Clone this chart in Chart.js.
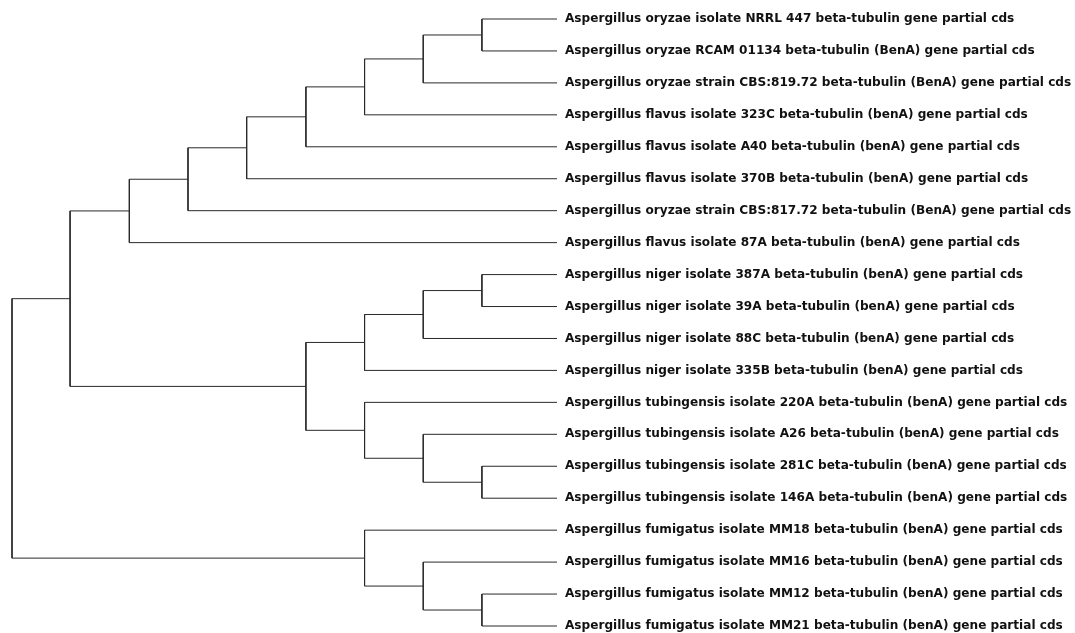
<!DOCTYPE html>
<html>
<head>
<meta charset="utf-8">
<script src="https://cdn.jsdelivr.net/npm/chart.js@4"></script>
<style>
  html, body { margin: 0; padding: 0; background: #ffffff; }
  #wrap { position: relative; width: 1075px; height: 633px; }
</style>
</head>
<body>
<div id="wrap"><canvas id="c"></canvas></div>
<script>
// Leaf labels, top to bottom
const leafLabels = [
  "Aspergillus oryzae isolate NRRL 447 beta-tubulin gene partial cds",
  "Aspergillus oryzae RCAM 01134 beta-tubulin (BenA) gene partial cds",
  "Aspergillus oryzae strain CBS:819.72 beta-tubulin (BenA) gene partial cds",
  "Aspergillus flavus isolate 323C beta-tubulin (benA) gene partial cds",
  "Aspergillus flavus isolate A40 beta-tubulin (benA) gene partial cds",
  "Aspergillus flavus isolate 370B beta-tubulin (benA) gene partial cds",
  "Aspergillus oryzae strain CBS:817.72 beta-tubulin (BenA) gene partial cds",
  "Aspergillus flavus isolate 87A beta-tubulin (benA) gene partial cds",
  "Aspergillus niger isolate 387A beta-tubulin (benA) gene partial cds",
  "Aspergillus niger isolate 39A beta-tubulin (benA) gene partial cds",
  "Aspergillus niger isolate 88C beta-tubulin (benA) gene partial cds",
  "Aspergillus niger isolate 335B beta-tubulin (benA) gene partial cds",
  "Aspergillus tubingensis isolate 220A beta-tubulin (benA) gene partial cds",
  "Aspergillus tubingensis isolate A26 beta-tubulin (benA) gene partial cds",
  "Aspergillus tubingensis isolate 281C beta-tubulin (benA) gene partial cds",
  "Aspergillus tubingensis isolate 146A beta-tubulin (benA) gene partial cds",
  "Aspergillus fumigatus isolate MM18 beta-tubulin (benA) gene partial cds",
  "Aspergillus fumigatus isolate MM16 beta-tubulin (benA) gene partial cds",
  "Aspergillus fumigatus isolate MM12 beta-tubulin (benA) gene partial cds",
  "Aspergillus fumigatus isolate MM21 beta-tubulin (benA) gene partial cds"
];

// Linkage: leaves are ids 0..19, merge k creates node id 20+k
const mergeLeft   = [0, 20, 21, 22, 23, 24, 25, 8, 27, 28, 14, 13, 12, 29, 26, 18, 17, 16, 34];
const mergeRight  = [1, 2, 3, 4, 5, 6, 7, 9, 10, 11, 15, 30, 31, 32, 33, 19, 35, 36, 37];
const mergeHeight = [1.28, 2.28, 3.28, 4.28, 5.29, 6.29, 7.29, 1.28, 2.28, 3.28, 1.28, 2.28, 3.28, 4.28, 8.30, 1.28, 2.28, 3.28, 9.29];

const nLeaves = leafLabels.length;
const nodeY = [], nodeH = [];
for (let i = 0; i < nLeaves; i++) { nodeY.push(i); nodeH.push(0); }
const datasets = [];
for (let k = 0; k < mergeLeft.length; k++) {
  const a = mergeLeft[k], b = mergeRight[k], h = mergeHeight[k];
  datasets.push({
    data: [
      { x: nodeH[a], y: nodeY[a] },
      { x: h, y: nodeY[a] },
      { x: h, y: nodeY[b] },
      { x: nodeH[b], y: nodeY[b] }
    ],
    showLine: true,
    borderColor: '#2a2a2a',
    borderWidth: 1,
    pointRadius: 0,
    pointHoverRadius: 0,
    tension: 0,
    fill: false,
    clip: false
  });
  nodeY.push((nodeY[a] + nodeY[b]) / 2);
  nodeH.push(h);
}

new Chart(document.getElementById('c'), {
  type: 'scatter',
  data: { datasets },
  options: {
    responsive: true,
    maintainAspectRatio: false,
    animation: false,
    layout: { padding: { left: 12, top: 19, bottom: 7, right: 0 } },
    plugins: { legend: { display: false }, tooltip: { enabled: false } },
    scales: {
      x: {
        type: 'linear',
        reverse: true,
        min: 0,
        max: 9.29,
        display: false
      },
      y: {
        type: 'linear',
        reverse: true,
        min: 0,
        max: nLeaves - 1,
        position: 'right',
        grid: { display: false, drawTicks: false },
        border: { display: false },
        afterFit: (scale) => { scale.width = 518; scale.paddingTop = 0; scale.paddingBottom = 0; },
        ticks: {
          stepSize: 1,
          autoSkip: false,
          maxTicksLimit: 40,
          padding: 8,
          color: '#111111',
          font: { family: "'DejaVu Sans', sans-serif", size: 12.1, weight: 'bold' },
          callback: (v) => leafLabels[v] || ''
        }
      }
    }
  }
});
</script>
</body>
</html>
